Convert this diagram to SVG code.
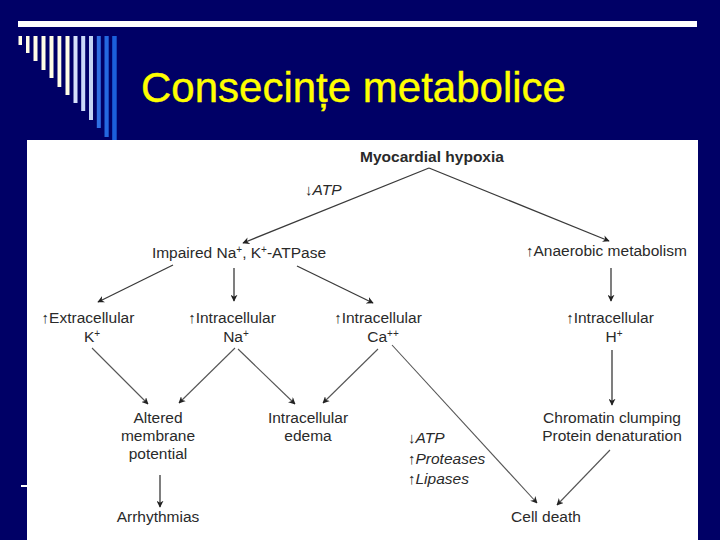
<svg xmlns="http://www.w3.org/2000/svg" width="720" height="540" viewBox="0 0 720 540">
<style>
.t{font-family:"Liberation Sans",Arial,sans-serif;font-size:15.5px;fill:#2a2a2a}
.b{font-weight:bold}
.i{font-style:italic}
.c{text-anchor:middle}
.ar{font-size:15px;font-style:normal}
.sup{font-size:10px}
.ln{stroke:#3a3a3a;stroke-width:1.3;fill:none;marker-end:url(#ah)}
.ln2{stroke:#555;stroke-width:1.1;fill:none;marker-end:url(#ah)}
</style>
<defs>
<marker id="ah" viewBox="0 0 10 10" refX="9" refY="5" markerWidth="7" markerHeight="7" markerUnits="userSpaceOnUse" orient="auto">
<path d="M0,0 L10,5 L0,10 L3,5 Z" fill="#222"/>
</marker>
</defs>
<rect width="720" height="540" fill="#000066"/>
<rect x="18" y="21" width="679" height="6" fill="#ffffff"/>
<g id="stripes">
<rect x="18.5" y="36" width="3.5" height="9" fill="#fffde6"/>
<rect x="26" y="36" width="3.5" height="17" fill="#fffde6"/>
<rect x="33.5" y="36" width="4" height="25" fill="#fffde6"/>
<rect x="41.5" y="36" width="4" height="34" fill="#fffde6"/>
<rect x="49.5" y="36" width="4" height="42" fill="#fffde6"/>
<rect x="57.5" y="36" width="3.8" height="51" fill="#fffde6"/>
<rect x="65.5" y="36" width="4" height="59" fill="#fffde6"/>
<rect x="73.5" y="36" width="4" height="67" fill="#d6e2fb"/>
<rect x="81.2" y="36" width="4" height="75" fill="#cbd9f7"/>
<rect x="89" y="36" width="4" height="84" fill="#c3d3f5"/>
<rect x="96.8" y="36" width="4" height="92" fill="#2f6fe4"/>
<rect x="104.5" y="36" width="4.2" height="101" fill="#2468e0"/>
<rect x="112.2" y="36" width="4.5" height="104" fill="#1b5fdc"/>
</g>
<text x="141" y="102" font-family="'Liberation Sans',Arial,sans-serif" font-size="42" fill="#ffff00" stroke="#ffff00" stroke-width="0.4">Consecințe metabolice</text>
<rect x="21" y="485" width="6" height="2" fill="#ffffff"/>
<rect x="27" y="140" width="671" height="400" fill="#ffffff"/>
<g id="connectors">
<path class="ln" d="M429,168 L243,243"/>
<path class="ln" d="M429,168 L609,241"/>
<path class="ln" d="M173,265 L98,302"/>
<path class="ln" d="M234,268 L234,301"/>
<path class="ln" d="M297,266 L373,303"/>
<path class="ln" d="M611,268 L611,301"/>
<path class="ln2" d="M92,348 L148,404"/>
<path class="ln2" d="M235,348 L179,403"/>
<path class="ln2" d="M238,349 L295,404"/>
<path class="ln2" d="M378,349 L323,403"/>
<path class="ln2" d="M392,345 L537,503"/>
<path class="ln" d="M160,475 L160,507"/>
<path class="ln" d="M612,350 L612,405"/>
<path class="ln2" d="M610,450 L557,505"/>
</g>
<g id="n-hypoxia"><text class="t b c" x="432" y="162">Myocardial hypoxia</text></g>
<g id="l-atp"><text class="t i" x="305" y="195"><tspan class="ar">↓</tspan>ATP</text></g>
<g id="n-impaired"><text class="t c" x="239" y="258">Impaired Na<tspan class="sup" dy="-5">+</tspan><tspan dy="5">, K</tspan><tspan class="sup" dy="-5">+</tspan><tspan dy="5">-ATPase</tspan></text></g>
<g id="n-anaerobic"><text class="t" x="526" y="256"><tspan class="ar">↑</tspan>Anaerobic metabolism</text></g>
<g id="n-extra"><text class="t c" x="88" y="323"><tspan class="ar">↑</tspan>Extracellular</text><text class="t c" x="92" y="342">K<tspan class="sup" dy="-5">+</tspan></text></g>
<g id="n-na"><text class="t c" x="232" y="323"><tspan class="ar">↑</tspan>Intracellular</text><text class="t c" x="236" y="342">Na<tspan class="sup" dy="-5">+</tspan></text></g>
<g id="n-ca"><text class="t c" x="378" y="323"><tspan class="ar">↑</tspan>Intracellular</text><text class="t c" x="383" y="342">Ca<tspan class="sup" dy="-5">++</tspan></text></g>
<g id="n-h"><text class="t c" x="610" y="323"><tspan class="ar">↑</tspan>Intracellular</text><text class="t c" x="614" y="342">H<tspan class="sup" dy="-5">+</tspan></text></g>
<g id="n-altered"><text class="t c" x="158" y="423">Altered</text><text class="t c" x="158" y="441">membrane</text><text class="t c" x="158" y="459">potential</text></g>
<g id="n-edema"><text class="t c" x="308" y="423">Intracellular</text><text class="t c" x="308" y="441">edema</text></g>
<g id="l-enz"><text class="t i" x="408" y="443"><tspan class="ar">↓</tspan>ATP</text><text class="t i" x="408" y="464"><tspan class="ar">↑</tspan>Proteases</text><text class="t i" x="408" y="484"><tspan class="ar">↑</tspan>Lipases</text></g>
<g id="n-chromatin"><text class="t c" x="612" y="423">Chromatin clumping</text><text class="t c" x="612" y="441">Protein denaturation</text></g>
<g id="n-arr"><text class="t c" x="158" y="522">Arrhythmias</text></g>
<g id="n-death"><text class="t c" x="546" y="522">Cell death</text></g>
</svg>
